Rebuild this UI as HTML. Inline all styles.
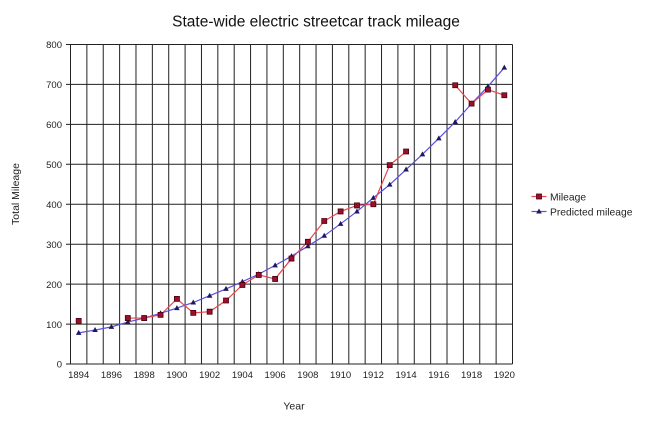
<!DOCTYPE html>
<html><head><meta charset="utf-8"><style>
html,body{margin:0;padding:0;background:#fff;}
svg{display:block;font-family:"Liberation Sans",sans-serif;}
</style></head><body>
<svg width="648" height="422" viewBox="0 0 648 422" xmlns="http://www.w3.org/2000/svg">
<rect width="648" height="422" fill="#fff"/>
<text x="316" y="26.5" font-size="15.5" text-anchor="middle" fill="#111">State-wide electric streetcar track mileage</text>
<path fill="none" stroke="#222" stroke-width="1" d="M66 44.5H512.5M66 84.4H512.5M66 124.4H512.5M66 164.3H512.5M66 204.3H512.5M66 244.2H512.5M66 284.1H512.5M66 324.1H512.5M66 364H512.5M70.5 44.5V364M86.87 44.5V364M103.24 44.5V364M119.61 44.5V364M135.98 44.5V364M152.35 44.5V364M168.72 44.5V364M185.09 44.5V364M201.46 44.5V364M217.83 44.5V364M234.2 44.5V364M250.57 44.5V364M266.94 44.5V364M283.31 44.5V364M299.68 44.5V364M316.05 44.5V364M332.42 44.5V364M348.79 44.5V364M365.16 44.5V364M381.53 44.5V364M397.9 44.5V364M414.27 44.5V364M430.64 44.5V364M447.01 44.5V364M463.38 44.5V364M479.75 44.5V364M496.12 44.5V364M512.5 44.5V364"/>
<g font-size="9.5" fill="#222" text-anchor="end">
<text x="62" y="48">800</text><text x="62" y="88">700</text><text x="62" y="128">600</text>
<text x="62" y="168">500</text><text x="62" y="208">400</text><text x="62" y="248">300</text>
<text x="62" y="288">200</text><text x="62" y="328">100</text><text x="62" y="367.5">0</text>
</g>
<g font-size="9.5" fill="#222" text-anchor="middle">
<text x="78.69" y="378">1894</text><text x="111.43" y="378">1896</text><text x="144.17" y="378">1898</text>
<text x="176.91" y="378">1900</text><text x="209.65" y="378">1902</text><text x="242.39" y="378">1904</text>
<text x="275.13" y="378">1906</text><text x="307.87" y="378">1908</text><text x="340.61" y="378">1910</text>
<text x="373.35" y="378">1912</text><text x="406.09" y="378">1914</text><text x="438.83" y="378">1916</text>
<text x="471.57" y="378">1918</text><text x="504.31" y="378">1920</text>
</g>
<text x="294" y="409.5" font-size="10.5" text-anchor="middle" fill="#222">Year</text>
<text transform="translate(19,194) rotate(-90)" font-size="10.5" text-anchor="middle" fill="#222">Total Mileage</text>
<polyline fill="none" stroke="#5a4fe0" stroke-width="1.2" points="78.69,332.85 95.06,330.05 111.43,326.86 127.8,322.07 144.17,318.07 160.54,313.28 176.91,308.09 193.28,302.5 209.65,295.71 226.02,288.92 242.39,281.73 258.76,274.14 275.13,265.36 291.5,256.17 307.87,246.19 324.24,235.8 340.61,223.82 356.98,211.44 373.35,197.86 389.72,184.68 406.09,169.51 422.46,154.33 438.83,138.36 455.2,121.98 471.57,103.61 487.94,86.44 504.31,67.67"/>
<path fill="#1c1a5c" d="M78.69,329.85l2.8,5h-5.6zM95.06,327.05l2.8,5h-5.6zM111.43,323.86l2.8,5h-5.6zM127.8,319.07l2.8,5h-5.6zM144.17,315.07l2.8,5h-5.6zM160.54,310.28l2.8,5h-5.6zM176.91,305.09l2.8,5h-5.6zM193.28,299.5l2.8,5h-5.6zM209.65,292.71l2.8,5h-5.6zM226.02,285.92l2.8,5h-5.6zM242.39,278.73l2.8,5h-5.6zM258.76,271.14l2.8,5h-5.6zM275.13,262.36l2.8,5h-5.6zM291.5,253.17l2.8,5h-5.6zM307.87,243.19l2.8,5h-5.6zM324.24,232.8l2.8,5h-5.6zM340.61,220.82l2.8,5h-5.6zM356.98,208.44l2.8,5h-5.6zM373.35,194.86l2.8,5h-5.6zM389.72,181.68l2.8,5h-5.6zM406.09,166.51l2.8,5h-5.6zM422.46,151.33l2.8,5h-5.6zM438.83,135.36l2.8,5h-5.6zM455.2,118.98l2.8,5h-5.6zM471.57,100.61l2.8,5h-5.6zM487.94,83.44l2.8,5h-5.6zM504.31,64.67l2.8,5h-5.6z"/>
<path fill="none" stroke="#e8484e" stroke-width="1.2" d="M127.8,318.07L144.17,318.07L160.54,314.88L176.91,298.9L193.28,312.88L209.65,311.68L226.02,300.5L242.39,284.92L258.76,274.94L275.13,278.93L291.5,258.57L307.87,241.79L324.24,221.03L340.61,211.44L356.98,205.45L373.35,204.25L389.72,165.11L406.09,151.53M455.2,85.24L471.57,103.61L487.94,89.63L504.31,95.22"/>
<path fill="#9a0f2a" stroke="#4a0010" stroke-width="0.8" d="M76.19,318.37h5v5h-5zM125.3,315.57h5v5h-5zM141.67,315.57h5v5h-5zM158.04,312.38h5v5h-5zM174.41,296.4h5v5h-5zM190.78,310.38h5v5h-5zM207.15,309.18h5v5h-5zM223.52,298h5v5h-5zM239.89,282.42h5v5h-5zM256.26,272.44h5v5h-5zM272.63,276.43h5v5h-5zM289,256.07h5v5h-5zM305.37,239.29h5v5h-5zM321.74,218.53h5v5h-5zM338.11,208.94h5v5h-5zM354.48,202.95h5v5h-5zM370.85,201.75h5v5h-5zM387.22,162.61h5v5h-5zM403.59,149.03h5v5h-5zM452.7,82.74h5v5h-5zM469.07,101.11h5v5h-5zM485.44,87.13h5v5h-5zM501.81,92.72h5v5h-5z"/>
<line x1="531.5" y1="196.5" x2="546.5" y2="196.5" stroke="#e8484e" stroke-width="1.2"/>
<rect x="536.5" y="194" width="5" height="5" fill="#9a0f2a" stroke="#4a0010" stroke-width="0.8"/>
<text x="550" y="200.3" font-size="10.3" fill="#222">Mileage</text>
<line x1="531.5" y1="211.5" x2="546.5" y2="211.5" stroke="#5a4fe0" stroke-width="1.2"/>
<path d="M539,208.5l2.8,5h-5.6z" fill="#1c1a5c"/>
<text x="550" y="215.3" font-size="10.3" fill="#222">Predicted mileage</text>
</svg>
</body></html>
